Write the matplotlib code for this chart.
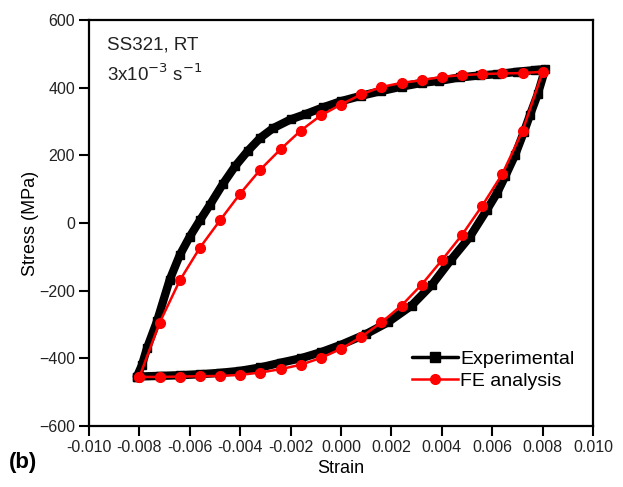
import matplotlib
matplotlib.use("Agg")
import matplotlib.pyplot as plt

plt.rcParams['font.family'] = ['Liberation Sans', 'DejaVu Sans']

# Experimental loop: upper (loading) branch then lower (unloading) branch
exp_up_strain = [-0.0081, -0.0079, -0.0077, -0.0073, -0.0068, -0.0064, -0.0060, -0.0056,
                 -0.0052, -0.0047, -0.0042, -0.0037, -0.0032, -0.0027, -0.0020, -0.0014,
                 -0.0007, 0.0000, 0.0008, 0.0016, 0.0024, 0.0032, 0.0039, 0.0047,
                 0.0055, 0.0062, 0.0070, 0.0077, 0.0081]
exp_up_stress = [-454, -420, -370, -290, -168, -95, -40, 8,
                 54, 114, 168, 213, 252, 280, 306, 322,
                 342, 360, 376, 390, 403, 414, 420, 430,
                 436, 440, 447, 452, 455]
exp_down_strain = [0.0081, 0.0078, 0.0075, 0.00726, 0.0069, 0.00652, 0.0062, 0.00578,
                   0.0051, 0.00435, 0.00361, 0.0028, 0.00185, 0.0010, 0.0000, -0.0008,
                   -0.0016, -0.0024, -0.0032, -0.0040, -0.0048, -0.0056, -0.0064, -0.0072,
                   -0.0081]
exp_down_stress = [455, 380, 320, 270, 200, 139, 90, 38,
                   -42, -110, -182, -244, -294, -328, -360, -382,
                   -400, -413, -427, -437, -443, -447, -450, -452,
                   -454]

# FE analysis loop
fe_up_strain = [-0.0080, -0.0072, -0.0064, -0.0056, -0.0048, -0.0040, -0.0032, -0.0024,
                -0.0016, -0.0008, 0.0000, 0.0008, 0.0016, 0.0024, 0.0032, 0.0040,
                0.0048, 0.0056, 0.0064, 0.0072, 0.0080]
fe_up_stress = [-455, -295, -170, -73, 8, 87, 158, 218,
                273, 318, 350, 380, 402, 414, 422, 432,
                437, 440, 442, 443, 447]
fe_down_strain = [0.0080, 0.0072, 0.0064, 0.0056, 0.0048, 0.0040, 0.0032, 0.0024,
                  0.0016, 0.0008, 0.0000, -0.0008, -0.0016, -0.0024, -0.0032, -0.0040,
                  -0.0048, -0.0056, -0.0064, -0.0072, -0.0080]
fe_down_stress = [447, 272, 145, 51, -35, -110, -182, -244,
                  -294, -337, -372, -399, -419, -432, -442, -449,
                  -452, -453, -454, -455, -455]

x_ticks = [-0.010, -0.008, -0.006, -0.004, -0.002, 0.000, 0.002, 0.004, 0.006, 0.008, 0.010]
y_ticks = [-600, -400, -200, 0, 200, 400, 600]

fig = plt.figure(figsize=(6.23, 4.87), dpi=100)
ax = fig.add_axes([0.1429, 0.1253, 0.8091, 0.8337])

exp_strain = exp_up_strain + exp_down_strain[1:]
exp_stress = exp_up_stress + exp_down_stress[1:]
fe_strain = fe_up_strain + fe_down_strain[1:]
fe_stress = fe_up_stress + fe_down_stress[1:]

ax.plot(exp_strain, exp_stress, color='black', linewidth=6, marker='s',
        markersize=6, solid_joinstyle='round', solid_capstyle='round',
        label='Experimental')
ax.plot(fe_strain, fe_stress, color='red', linewidth=1.8, marker='o',
        markersize=7, label='FE analysis')

ax.set_xlim(-0.010, 0.010)
ax.set_ylim(-600, 600)
ax.set_xticks(x_ticks)
ax.set_xticklabels([f'{t:.3f}' for t in x_ticks])
ax.set_yticks(y_ticks)

for s in ax.spines.values():
    s.set_linewidth(1.6)
ax.tick_params(direction='out', length=7, width=1.5, labelsize=11.5,
               labelcolor='#222222', top=False, right=False, pad=3)

ax.set_xlabel('Strain', fontsize=13, labelpad=4)
ax.set_ylabel('Stress (MPa)', fontsize=13, labelpad=0)

ax.text(0.036, 0.96, 'SS321, RT', transform=ax.transAxes, fontsize=13.5,
        va='top', color='#222222')
ax.text(0.036, 0.893, r'3x10$^{-3}$ s$^{-1}$', transform=ax.transAxes, fontsize=13.5,
        va='top', color='#222222')

leg = ax.legend(loc='center left', bbox_to_anchor=(0.64, 0.138), frameon=False,
                fontsize=14, handlelength=2.4, handletextpad=0.1,
                labelspacing=0.25, borderpad=0, borderaxespad=0)
leg.legend_handles[0].set_linewidth(2.5)
leg.legend_handles[0].set_markersize(7)

fig.text(0.015, 0.04, '(b)', fontsize=16, fontweight='bold')

fig.savefig('out.png', dpi=100)
